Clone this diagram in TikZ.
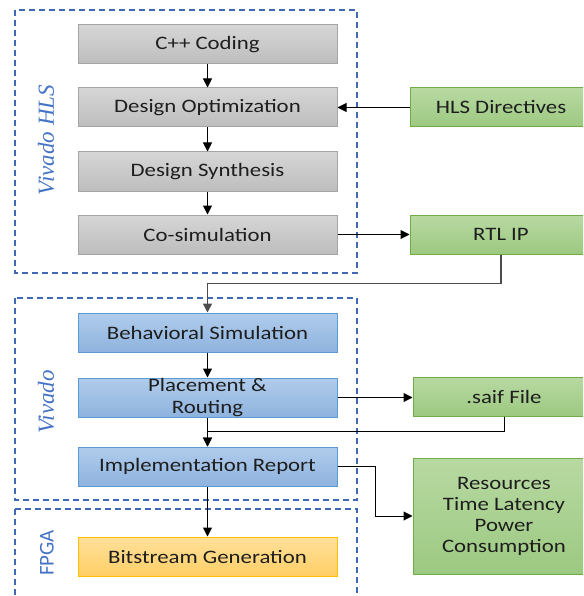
\documentclass[tikz,border=0pt]{standalone}
\usepackage{fontspec}
\setmainfont{Carlito}[FakeStretch=1.2]
\newfontfamily\vivfont{Liberation Serif}
\newfontfamily\fpgafont{Carlito}
\usetikzlibrary{arrows.meta}
\definecolor{gtop}{HTML}{D6D6D6}
\definecolor{gbot}{HTML}{BDBDBD}
\definecolor{gbord}{HTML}{A5A5A5}
\definecolor{grtop}{HTML}{B8D9A2}
\definecolor{grbot}{HTML}{9CC981}
\definecolor{grbord}{HTML}{70AD47}
\definecolor{btop}{HTML}{B0CCEB}
\definecolor{bbot}{HTML}{8EB3DF}
\definecolor{bbord}{HTML}{5B9BD5}
\definecolor{otop}{HTML}{FFE09A}
\definecolor{obot}{HTML}{FFCF66}
\definecolor{obord}{HTML}{FFC000}
\definecolor{dashc}{HTML}{3F68B5}
\definecolor{labc}{HTML}{4472C4}
\definecolor{txt}{HTML}{1E1E1E}
\begin{document}
\begin{tikzpicture}[x=1pt,y=-1pt,
  box/.style={draw, line width=1pt, minimum width=259pt, minimum height=39pt, inner sep=0pt,
    font=\fontsize{19}{22}\selectfont, align=center, text=txt},
  graybox/.style={box, draw=gbord, top color=gtop, bottom color=gbot},
  bluebox/.style={box, draw=bbord, top color=btop, bottom color=bbot},
  orangebox/.style={box, draw=obord, top color=otop, bottom color=obot},
  greenbox/.style={box, draw=grbord, top color=grtop, bottom color=grbot, minimum width=182pt},
  frame/.style={draw=dashc, line width=1.2pt, dash pattern=on 6pt off 4pt},
  grouplabel/.style={rotate=90, text=labc, inner sep=0pt},
  arr/.style={draw=black, line width=1pt, -{Triangle[length=9pt,width=9pt]}},
  feed/.style={arr, draw=black!70, line width=1.4pt}]
\useasboundingbox (0,0) rectangle (583,596);
\begin{scope}
\clip (0,0) rectangle (583,596);
% dashed group frames
\draw[frame] (15,10) rectangle (357,273);
\draw[frame] (15,298) rectangle (357,500);
\draw[frame] (15,509) rectangle (357,610);
% group labels
\node[grouplabel, font=\vivfont\itshape\fontsize{23}{26}\selectfont] (lhls) at (46,140) {Vivado HLS};
\node[grouplabel, font=\vivfont\itshape\fontsize{23}{26}\selectfont] (lviv) at (46,402) {Vivado};
\node[grouplabel, font=\fpgafont\fontsize{21}{24}\selectfont] (lfpga) at (47,553) {FPGA};
% process boxes
\node[graybox] (cpp) at (207.5,44.5) {C++ Coding};
\node[graybox] (opt) at (207.5,107.5) {Design Optimization};
\node[graybox] (syn) at (207.5,171.5) {Design Synthesis};
\node[graybox] (cosim) at (207.5,234.5) {Co-simulation};
\node[greenbox] (hls) at (501,107.5) {HLS Directives};
\node[greenbox] (rtl) at (501,234.5) {RTL IP};
\node[bluebox] (beh) at (207.5,332.5) {Behavioral Simulation};
\node[bluebox] (pr) at (207.5,397.5) {Placement \&\\Routing};
\node[greenbox] (saif) at (504,396.5) {.saif File};
\node[bluebox] (impl) at (207.5,466.5) {Implementation Report};
\node[greenbox, minimum height=116pt, font=\fontsize{19}{21}\selectfont] (res) at (504,516) {Resources\\Time Latency\\Power\\Consumption};
\node[orangebox] (bit) at (207.5,556.5) {Bitstream Generation};
% connectors
\draw[arr] (cpp.south) -- (opt.north);
\draw[arr] (opt.south) -- (syn.north);
\draw[arr] (syn.south) -- (cosim.north);
\draw[arr] (hls.west) -- (opt.east);
\draw[arr] (cosim.east) -- (rtl.west);
\draw[feed] (rtl.south) -- ++(0,29) -| (beh.north);
\draw[arr] (beh.south) -- (pr.north);
\draw[arr] (pr.east) -- (pr.east -| saif.west);
\draw[arr] (saif.south) -- ++(0,15) -| (impl.north);
\draw[arr] (pr.south) -- (impl.north);
\draw[arr] (impl.east) -- ++(37.5,0) |- (res.west);
\draw[arr] (impl.south) -- (bit.north);
\end{scope}
\end{tikzpicture}
\end{document}
